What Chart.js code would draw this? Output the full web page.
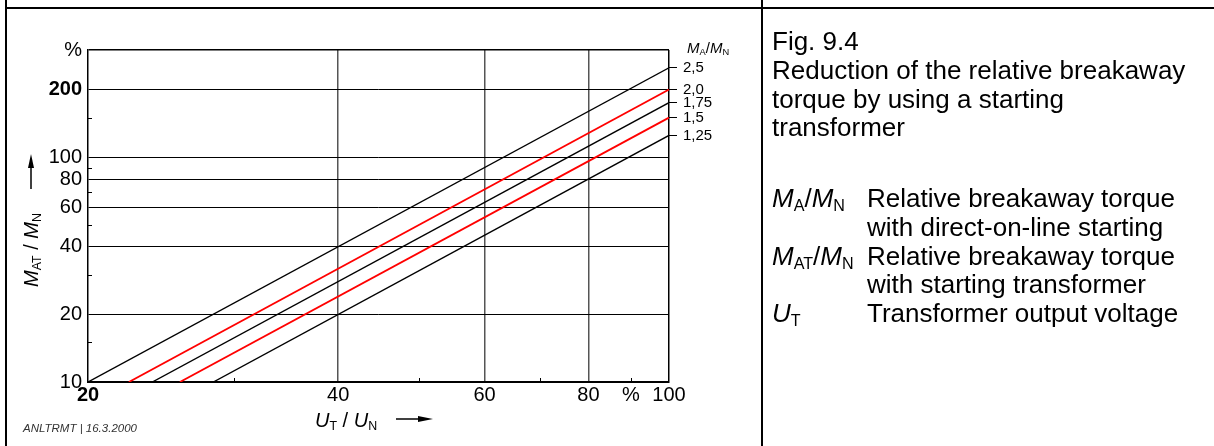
<!DOCTYPE html>
<html>
<head>
<meta charset="utf-8">
<script src="https://cdn.jsdelivr.net/npm/chart.js@4.4.1/dist/chart.umd.min.js"></script>
<style>
  body { margin: 0; background: #fff; font-family: 'Liberation Sans', Arial, sans-serif; }
  #page { position: relative; width: 1214px; height: 446px; overflow: hidden; }
  #chart { position: absolute; left: 0; top: 0; }
  .rule { position: absolute; background: #000; }
  .txt { position: absolute; white-space: nowrap; color: #000; }
  .big { font-size: 26px; line-height: 26px; }
  .mid { font-size: 20px; line-height: 20px; }
  sub { font-size: 0.62em; vertical-align: -0.22em; line-height: 0; font-style: normal; }
</style>
</head>
<body>
<div id="page">
  <canvas id="chart" width="1214" height="446"></canvas>

  <div class="rule" style="left:5px;top:0;width:2px;height:446px"></div>
  <div class="rule" style="left:761px;top:0;width:2px;height:446px"></div>
  <div class="rule" style="left:5px;top:7px;width:1209px;height:2px"></div>

  <svg style="position:absolute;left:0;top:0" width="1214" height="446">
    <line x1="31" y1="166" x2="31" y2="189" stroke="#000" stroke-width="1.5"/>
    <polygon points="31,154 28,168 34,168" fill="#000"/>
    <line x1="396" y1="419" x2="420" y2="419" stroke="#000" stroke-width="1.5"/>
    <polygon points="433,419 418,416 418,422" fill="#000"/>
  </svg>

  <div class="txt mid" style="left:-29px;top:240px;width:120px;text-align:center;transform:rotate(-90deg)"><i>M</i><sub>AT</sub> / <i>M</i><sub>N</sub></div>
  <div class="txt mid" style="left:315px;top:410px"><i>U</i><sub>T</sub> / <i>U</i><sub>N</sub></div>
  <div class="txt" style="left:687px;top:40px;font-size:15px;line-height:15px"><i>M</i><sub>A</sub>/<i>M</i><sub>N</sub></div>
  <div class="txt" style="left:23px;top:422px;font-size:11.5px;line-height:12px;font-style:italic;color:#333">ANLTRMT | 16.3.2000</div>

  <div class="txt big" style="left:772px;top:28px">Fig. 9.4</div>
  <div class="txt big" style="left:772px;top:57px">Reduction of the relative breakaway</div>
  <div class="txt big" style="left:772px;top:86px">torque by using a starting</div>
  <div class="txt big" style="left:772px;top:114px">transformer</div>

  <div class="txt big" style="left:772px;top:185px"><i>M</i><sub>A</sub>/<i>M</i><sub>N</sub></div>
  <div class="txt big" style="left:867px;top:185px">Relative breakaway torque</div>
  <div class="txt big" style="left:867px;top:214px">with direct-on-line starting</div>
  <div class="txt big" style="left:772px;top:243px"><i>M</i><sub>AT</sub>/<i>M</i><sub>N</sub></div>
  <div class="txt big" style="left:867px;top:243px">Relative breakaway torque</div>
  <div class="txt big" style="left:867px;top:271px">with starting transformer</div>
  <div class="txt big" style="left:772px;top:300px"><i>U</i><sub>T</sub></div>
  <div class="txt big" style="left:867px;top:300px">Transformer output voltage</div>
</div>

<script>
// M_A/M_N curves: each is a straight line on the log-log grid
const ratioLabels = ['2,5', '2,0', '1,75', '1,5', '1,25'];
const uStart = [20, 22.4, 23.9, 25.8, 28.3];   // U_T/U_N in % where the line leaves the 10 % floor
const mStart = [10, 10, 10, 10, 10];
const uEnd = [100, 100, 100, 100, 100];
const mEnd = [250, 200, 175, 150, 125];        // M_AT/M_N in % at full voltage

const yTicks = [10, 15, 20, 30, 40, 50, 60, 70, 80, 90, 100, 150, 200, 300];
const yTickLabels = ['10', '', '20', '', '40', '', '60', '', '80', '', '100', '', '200', '%'];
const yGridValues = [20, 40, 60, 80, 100, 200, 300];
const yMinor = [15, 30, 50, 70, 90, 150];

const xTicks = [20, 30, 40, 50, 60, 70, 80, 90, 100];
const xTickLabels = ['20', '', '40', '', '60', '', '80', '%', '100'];
const xGridValues = [40, 60, 80, 100];
const xMinor = [30, 50, 70, 90];

const lineColors = ['#000', '#f00', '#000', '#f00', '#000'];
const fontFamily = "'Liberation Sans', Arial, sans-serif";

const datasets = ratioLabels.map((label, i) => ({
    label: label,
    data: [{ x: uStart[i], y: mStart[i] }, { x: uEnd[i], y: mEnd[i] }],
    borderColor: lineColors[i],
    borderWidth: lineColors[i] === '#f00' ? 1.8 : 1.4,
    pointRadius: 0,
    tension: 0
}));

// short inner tick marks for the unlabelled log steps
const minorTicks = {
    id: 'minorTicks',
    afterDraw(chart) {
        const ctx = chart.ctx;
        const area = chart.chartArea;
        ctx.save();
        ctx.strokeStyle = '#000';
        ctx.lineWidth = 1;
        ctx.beginPath();
        yMinor.forEach(v => {
            const y = Math.round(chart.scales.y.getPixelForValue(v)) + 0.5;
            ctx.moveTo(area.left, y);
            ctx.lineTo(area.left + 4, y);
        });
        xMinor.forEach(v => {
            const x = Math.round(chart.scales.x.getPixelForValue(v)) + 0.5;
            ctx.moveTo(x, area.bottom);
            ctx.lineTo(x, area.bottom - 4);
        });
        ctx.stroke();
        ctx.restore();
    }
};

new Chart(document.getElementById('chart'), {
    type: 'line',
    data: { datasets: datasets },
    plugins: [minorTicks],
    options: {
        responsive: false,
        animation: false,
        devicePixelRatio: 1,
        layout: { padding: { left: 0, top: 50, right: 465, bottom: 0 } },
        plugins: { legend: { display: false }, tooltip: { enabled: false } },
        scales: {
            x: {
                type: 'logarithmic',
                min: 20,
                max: 100,
                afterBuildTicks: (axis) => { axis.ticks = xTicks.map(v => ({ value: v })); },
                afterFit: (axis) => { axis.height = 64; },
                grid: {
                    drawTicks: false,
                    color: (c) => (c.tick && xGridValues.includes(c.tick.value)) ? (c.tick.value === 100 ? '#000' : '#555') : 'rgba(0,0,0,0)',
                    lineWidth: 1.5
                },
                border: { color: '#000', width: 2 },
                ticks: {
                    autoSkip: false,
                    maxRotation: 0,
                    padding: 1,
                    color: '#000',
                    font: (c) => ({ family: fontFamily, size: 20, weight: (c.tick && c.tick.value === 20) ? 'bold' : 'normal' }),
                    callback: (v, i) => xTickLabels[i]
                }
            },
            y: {
                type: 'logarithmic',
                min: 10,
                max: 300,
                afterBuildTicks: (axis) => { axis.ticks = yTicks.map(v => ({ value: v })); },
                afterFit: (axis) => { axis.width = 88; },
                grid: {
                    drawTicks: false,
                    color: (c) => (c.tick && yGridValues.includes(c.tick.value)) ? '#000' : 'rgba(0,0,0,0)',
                    lineWidth: (c) => (c.tick && c.tick.value === 300) ? 1.5 : 1
                },
                border: { color: '#000', width: 1.5 },
                ticks: {
                    autoSkip: false,
                    padding: 6,
                    color: '#000',
                    font: (c) => ({ family: fontFamily, size: 20, weight: (c.tick && c.tick.value === 200) ? 'bold' : 'normal' }),
                    callback: (v, i) => yTickLabels[i]
                }
            },
            y2: {
                type: 'logarithmic',
                position: 'right',
                min: 10,
                max: 300,
                afterBuildTicks: (axis) => { axis.ticks = mEnd.map(v => ({ value: v })); },
                afterFit: (axis) => { axis.width = 80; },
                grid: { drawOnChartArea: false, drawTicks: true, tickLength: 8, color: '#000', lineWidth: 1 },
                border: { display: false },
                ticks: {
                    autoSkip: false,
                    padding: 6,
                    color: '#000',
                    font: { family: fontFamily, size: 15 },
                    callback: (v, i) => ratioLabels[i]
                }
            }
        }
    }
});
</script>
</body>
</html>
